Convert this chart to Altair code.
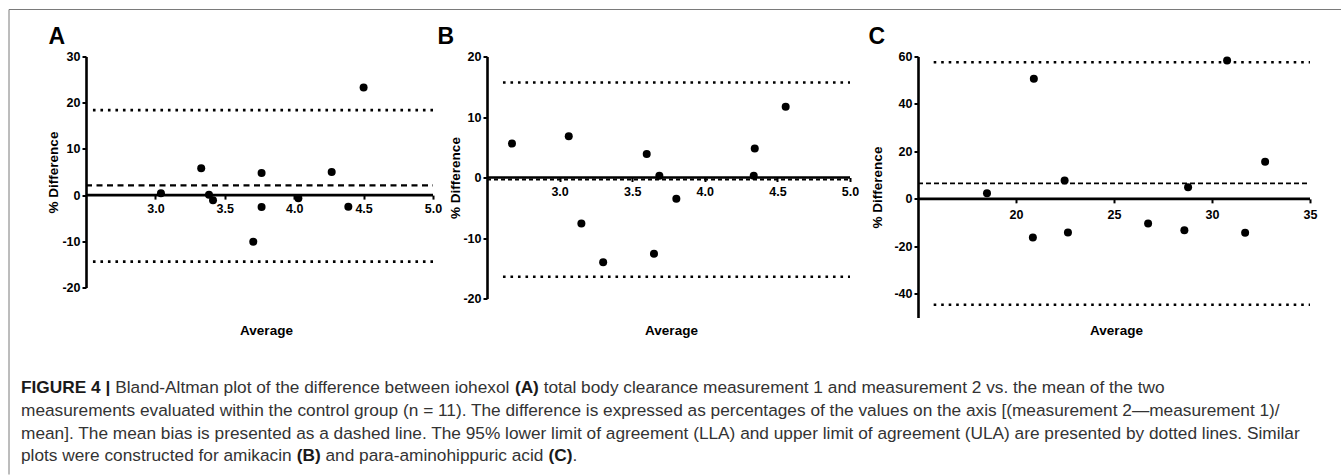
import altair as alt
import pandas as pd

FONT = "Liberation Sans"

# ---------------- data ----------------
# Panel A: iohexol total body clearance
a_average = [3.04, 3.33, 3.386, 3.415, 3.705, 3.765, 3.765, 4.03, 4.27, 4.39, 4.50]
a_difference = [0.4, 5.8, 0.1, -1.1, -10.1, 4.8, -2.6, -0.7, 5.0, -2.5, 23.3]
a_bias, a_lla, a_ula = 2.1, -14.4, 18.4

# Panel B: amikacin
b_average = [2.672, 3.063, 3.15, 3.30, 3.60, 3.65, 3.687, 3.804, 4.337, 4.344, 4.557]
b_difference = [5.6, 6.8, -7.6, -14.0, 3.9, -12.6, 0.3, -3.5, 0.3, 4.8, 11.7]
b_bias, b_lla, b_ula = -0.35, -16.4, 15.7

# Panel C: para-aminohippuric acid
c_average = [18.52, 20.91, 20.86, 22.48, 22.65, 26.74, 28.59, 28.78, 30.77, 31.69, 32.71]
c_difference = [2.4, 50.6, -16.3, 7.75, -14.2, -10.4, -13.2, 4.9, 58.3, -14.3, 15.6]
c_bias, c_lla, c_ula = 6.5, -44.6, 57.6

a_x_ticks = [3.0, 3.5, 4.0, 4.5, 5.0]
a_y_ticks = [-20, -10, 0, 10, 20, 30]
b_x_ticks = [3.0, 3.5, 4.0, 4.5, 5.0]
b_y_ticks = [-20, -10, 0, 10, 20]
c_x_ticks = [20, 25, 30, 35]
c_y_ticks = [-40, -20, 0, 20, 40, 60]

panel_letters = ["A", "B", "C"]
x_title = "Average"
y_title = "% Difference"

caption_lines = [
    [("FIGURE 4 |", True),
     ("Bland-Altman plot of the difference between iohexol", False),
     ("(A)", True),
     ("total body clearance measurement 1 and measurement 2 vs. the mean of the two", False)],
    [("measurements evaluated within the control group (n = 11). The difference is expressed "
      "as percentages of the values on the axis [(measurement 2\u2014measurement 1)/", False)],
    [("mean]. The mean bias is presented as a dashed line. The 95% lower limit of agreement (LLA) "
      "and upper limit of agreement (ULA) are presented by dotted lines. Similar", False)],
    [("plots were constructed for amikacin", False),
     ("(B)", True),
     ("and para-aminohippuric acid", False),
     ("(C)", True),
     (".", False)],
]

# ---------------- text metrics (Arial / Liberation Sans widths, per 1000 em) ----------------
REG = {}
for ch, w in zip("abcdefghijklmnopqrstuvwxyz",
                 [556, 556, 500, 556, 556, 278, 556, 556, 222, 222, 500, 222, 833,
                  556, 556, 556, 556, 333, 500, 278, 556, 500, 722, 500, 500, 500]):
    REG[ch] = w
for ch, w in zip("ABCDEFGHIJKLMNOPQRSTUVWXYZ",
                 [667, 667, 722, 722, 667, 611, 778, 722, 278, 500, 667, 556, 833,
                  722, 778, 667, 778, 722, 667, 611, 722, 667, 944, 667, 667, 611]):
    REG[ch] = w
for d in "0123456789":
    REG[d] = 556
REG.update({" ": 278, ".": 278, ",": 278, "-": 333, "(": 333, ")": 333, "[": 278,
            "]": 278, "/": 278, "=": 584, "%": 889, "|": 260, "\u2014": 1000})
BOLD = dict(REG)
BOLD.update({"A": 722, "B": 722, "C": 722, "E": 667, "F": 611, "G": 778, "I": 278,
             "R": 722, "U": 722, "|": 280})


def text_width(s, bold):
    table = BOLD if bold else REG
    return sum(table.get(ch, 556) for ch in s) / 1000.0


# font size chosen so that the longest caption line spans the same width as in the figure
line2_em = text_width(caption_lines[1][0][0], False)
CAP_FS = 1262.0 / line2_em

# ---------------- layout constants ----------------
A_W, A_H = 347, 231
B_W, B_H = 377, 242
C_W, C_H = 392, 261
SPACING = 54


def panel(avg, diff, bias, lla, ula, x_dom, x_end, x_ticks, x_fmt, y_dom, y_ticks,
          width, height, limit_start, letter, letter_x, ytitle_x, xtitle_x, xlabel_pad,
          bias_dash, bias_width, extra_layers=()):
    ymin, ymax = y_dom
    y0 = height * ymax / (ymax - ymin)
    x_scale = alt.Scale(domain=x_dom, nice=False, zero=False)
    y_scale = alt.Scale(domain=y_dom, nice=False, zero=False)
    x_axis = alt.Axis(
        values=x_ticks, format=x_fmt, domain=False, ticks=True, tickSize=4, tickWidth=2,
        tickColor="black", labelPadding=xlabel_pad, labelFlush=False, labelOverlap=False,
        labelFont=FONT, labelFontSize=12.5, labelFontWeight="bold", labelColor="black",
        offset=-(height - y0), grid=False,
        title=x_title, titleX=xtitle_x, titleY=274 - y0, titleBaseline="middle",
        titleAlign="center", titleFont=FONT, titleFontSize=13.5, titleFontWeight="bold",
        titleColor="black")
    y_axis = alt.Axis(
        values=y_ticks, format="d", labelExpr="replace(datum.label, '\u2212', '-')",
        domain=True, domainColor="black", domainWidth=2.6, tickSize=4, tickWidth=2,
        tickColor="black", labelPadding=2, labelFlush=False, labelOverlap=False,
        labelFont=FONT, labelFontSize=12.5, labelFontWeight="bold", labelColor="black",
        grid=False, title=y_title, titleX=ytitle_x, titleY=height / 2, titleAngle=270,
        titleBaseline="middle", titleAlign="center", titleFont=FONT, titleFontSize=13.5,
        titleFontWeight="bold", titleColor="black")

    def X():
        return alt.X("x:Q", scale=x_scale, axis=x_axis)

    def Y():
        return alt.Y("y:Q", scale=y_scale, axis=y_axis)

    pts = pd.DataFrame({"x": avg, "y": diff})
    limits = pd.DataFrame({"x": [limit_start, limit_start], "x2": [x_end, x_end], "y": [lla, ula]})
    bias_df = pd.DataFrame({"x": [x_dom[0]], "x2": [x_end], "y": [bias]})
    zero_df = pd.DataFrame({"x": [x_dom[0]], "x2": [x_end], "y": [0]})

    dotted = alt.Chart(limits).mark_rule(color="black", strokeWidth=2.6, strokeDash=[2.6, 4.9]).encode(
        x=X(), x2="x2:Q", y=Y())
    dashed = alt.Chart(bias_df).mark_rule(color="black", strokeWidth=bias_width, strokeDash=bias_dash).encode(
        x=X(), x2="x2:Q", y=Y())
    zero = alt.Chart(zero_df).mark_rule(color="black", strokeWidth=2.6).encode(
        x=X(), x2="x2:Q", y=Y())
    points = alt.Chart(pts).mark_circle(size=64, color="black", opacity=1).encode(x=X(), y=Y())
    lab = alt.Chart(pd.DataFrame({"t": [letter]})).mark_text(
        font=FONT, fontSize=23, fontWeight="bold", align="left", baseline="alphabetic",
        color="black").encode(x=alt.value(letter_x), y=alt.value(-13), text="t:N")
    return alt.layer(dotted, dashed, zero, points, lab, *extra_layers).properties(
        width=width, height=height)


# ---------------- caption & frame (drawn in panel A's coordinates) ----------------
one = pd.DataFrame({"k": [0]})
frame = [
    alt.Chart(one).mark_rule(color="#7a7a7a", strokeWidth=1).encode(
        x=alt.value(-77), x2=alt.value(1255), y=alt.value(-47)),
    alt.Chart(one).mark_rule(color="#7a7a7a", strokeWidth=1).encode(
        x=alt.value(-77), y=alt.value(-47), y2=alt.value(418)),
]
caption_layers = []
line_baselines = [336, 359, 382, 404]
for line, base in zip(caption_lines, line_baselines):
    xpos = -65.0
    for i, (seg, bold) in enumerate(line):
        if i > 0 and not seg.startswith("."):
            xpos += text_width(" ", False) * CAP_FS
        caption_layers.append(
            alt.Chart(one).mark_text(
                text=seg, font=FONT, fontSize=CAP_FS, fontWeight="bold" if bold else "normal",
                align="left", baseline="alphabetic", color="#1a1a1a" if bold else "#333333"
            ).encode(x=alt.value(xpos), y=alt.value(base)))
        xpos += text_width(seg, bold) * CAP_FS

pa = panel(a_average, a_difference, a_bias, a_lla, a_ula, [2.5, 5.0], 5.0, a_x_ticks, ".1f",
           [-20, 30], a_y_ticks, A_W, A_H, 2.55, panel_letters[0], -37.5, -32.5, 180, 3.3,
           [6, 4.5], 2.2, extra_layers=frame + caption_layers)
pb = panel(b_average, b_difference, b_bias, b_lla, b_ula, [2.5, 2.5 + B_W / 145.2], 5.0, b_x_ticks,
           ".1f", [-20, 20], b_y_ticks, B_W, B_H, 2.61, panel_letters[1], -49.5, -31.5, 184, 4.4,
           [4, 3], 2.0)
pc = panel(c_average, c_difference, c_bias, c_lla, c_ula, [15, 35], 35, c_x_ticks, "d",
           [-50, 60], c_y_ticks, C_W, C_H, 15.8, panel_letters[2], -49.5, -40.5, 198, 5.6,
           [5, 3], 1.8)

chart = alt.hconcat(pa, pb, pc, spacing=SPACING, bounds="flush").properties(
    padding={"left": 8, "top": 8.5, "right": 0, "bottom": 0},
    background="white",
).configure_view(stroke=None)

chart.save("out.html", embed_options={"renderer": "svg", "actions": False})
